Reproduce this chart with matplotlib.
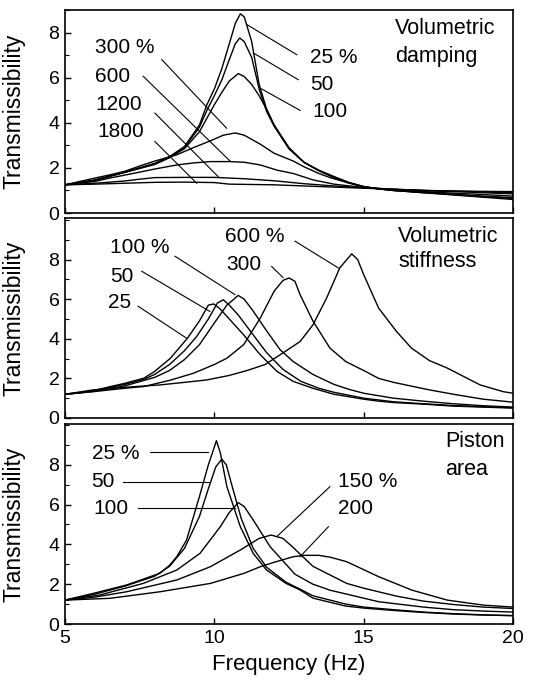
import matplotlib
matplotlib.use("Agg")
import matplotlib.pyplot as plt
from matplotlib.ticker import MultipleLocator

plt.rcParams['font.family'] = ['Liberation Sans', 'DejaVu Sans']

# ---------------- volumetric damping ----------------
vd25_f = [5, 6, 7, 8, 8.5, 9, 9.5, 9.75, 10, 10.25, 10.5, 10.7, 10.87, 11.0, 11.25, 11.5, 11.75, 12, 12.5, 13, 13.5, 14, 14.5, 15, 15.5, 16, 17, 18, 19, 20]
vd25_t = [1.25, 1.47, 1.82, 2.2, 2.5, 2.95, 3.9, 4.8, 5.5, 6.4, 7.5, 8.4, 8.83, 8.7, 7.6, 5.7, 4.6, 3.9, 2.85, 2.25, 1.9, 1.62, 1.36, 1.17, 1.07, 1.0, 0.9, 0.8, 0.7, 0.6]
vd50_f = [5, 6, 7, 8, 8.5, 9, 9.5, 9.75, 10, 10.25, 10.5, 10.7, 10.85, 11.0, 11.25, 11.5, 11.75, 12, 12.5, 13, 13.5, 14, 14.5, 15, 15.5, 16, 17, 18, 19, 20]
vd50_t = [1.25, 1.45, 1.8, 2.18, 2.48, 2.9, 3.8, 4.55, 5.2, 5.9, 6.8, 7.5, 7.76, 7.6, 6.9, 5.5, 4.5, 3.85, 2.85, 2.25, 1.88, 1.6, 1.35, 1.17, 1.07, 1.0, 0.9, 0.82, 0.72, 0.65]
vd100_f = [5, 6, 7, 8, 8.5, 9, 9.5, 9.75, 10, 10.25, 10.5, 10.8, 11.0, 11.25, 11.5, 11.75, 12, 12.5, 13, 13.5, 14, 14.5, 15, 15.5, 16, 17, 18, 19, 20]
vd100_t = [1.25, 1.45, 1.8, 2.15, 2.45, 2.85, 3.6, 4.2, 4.8, 5.35, 5.85, 6.18, 6.05, 5.7, 5.2, 4.6, 3.9, 2.9, 2.25, 1.87, 1.57, 1.33, 1.16, 1.07, 1.0, 0.92, 0.83, 0.75, 0.68]
vd300_f = [5, 6, 6.5, 7, 7.6, 8, 8.74, 9.3, 9.87, 10.3, 10.7, 11.0, 11.54, 12, 12.65, 13, 13.5, 13.9, 14.5, 15, 15.5, 16, 17, 18, 19, 20]
vd300_t = [1.25, 1.55, 1.69, 1.85, 2.13, 2.3, 2.58, 2.9, 3.2, 3.45, 3.55, 3.45, 3.05, 2.65, 2.3, 2.05, 1.75, 1.56, 1.33, 1.17, 1.08, 1.02, 0.95, 0.88, 0.82, 0.75]
vd600_f = [5, 6, 6.5, 7, 7.6, 8, 8.74, 9.3, 9.87, 10.5, 11, 11.54, 12.1, 12.65, 13.3, 14, 14.4, 15, 16, 17, 18, 19, 20]
vd600_t = [1.25, 1.4, 1.55, 1.68, 1.84, 1.95, 2.13, 2.22, 2.28, 2.28, 2.25, 2.13, 1.9, 1.75, 1.47, 1.28, 1.22, 1.13, 1.05, 1.0, 0.95, 0.9, 0.85]
vd1200_f = [5, 6, 7, 7.5, 8, 9, 10, 10.5, 11, 12, 13, 14, 15, 16, 17, 18, 19, 20]
vd1200_t = [1.25, 1.32, 1.42, 1.5, 1.57, 1.58, 1.58, 1.55, 1.52, 1.43, 1.3, 1.2, 1.12, 1.06, 1.0, 0.97, 0.93, 0.9]
vd1800_f = [5, 6, 7, 8, 9, 10, 10.5, 11, 12, 13, 14, 15, 16, 17, 18, 19, 20]
vd1800_t = [1.25, 1.28, 1.32, 1.36, 1.37, 1.35, 1.28, 1.27, 1.25, 1.2, 1.15, 1.1, 1.05, 1.0, 0.98, 0.96, 0.95]

# ---------------- volumetric stiffness ----------------
vs25_f = [5, 5.4, 6, 6.53, 7, 7.64, 8, 8.53, 9.1, 9.5, 9.8, 9.98, 10.2, 10.5, 10.98, 11.54, 12.1, 12.64, 13.3, 14, 15, 15.5, 16, 17, 18, 19, 20]
vs25_t = [1.2, 1.25, 1.4, 1.59, 1.75, 2.01, 2.35, 3.02, 4.03, 4.9, 5.7, 5.76, 5.5, 5.0, 4.2, 3.19, 2.35, 1.85, 1.5, 1.2, 0.95, 0.85, 0.78, 0.7, 0.6, 0.55, 0.5]
vs50_f = [5, 6, 7, 7.64, 8, 8.5, 9, 9.4, 9.8, 10.1, 10.3, 10.5, 10.8, 11.25, 11.75, 12.3, 12.9, 13.5, 14, 15, 16, 17, 18, 19, 20]
vs50_t = [1.2, 1.38, 1.7, 1.95, 2.2, 2.7, 3.4, 4.1, 5.0, 5.8, 5.97, 5.7, 5.2, 4.3, 3.3, 2.45, 1.85, 1.5, 1.3, 1.0, 0.82, 0.72, 0.63, 0.57, 0.52]
vs100_f = [5, 6, 7, 8, 8.5, 9, 9.5, 10, 10.42, 10.8, 11.0, 11.3, 11.75, 12.2, 12.64, 13.3, 14, 14.5, 15, 16, 17, 18, 19, 20]
vs100_t = [1.2, 1.35, 1.62, 2.05, 2.4, 2.95, 3.7, 4.8, 5.7, 6.19, 6.0, 5.4, 4.4, 3.45, 2.85, 2.2, 1.7, 1.45, 1.25, 1.0, 0.85, 0.72, 0.62, 0.55]
vs300_f = [5, 5.95, 7, 7.64, 8.5, 9.3, 10, 10.42, 10.98, 11.54, 12, 12.3, 12.5, 12.7, 12.87, 13.3, 13.87, 14.4, 15, 15.5, 16, 17.2, 18, 19, 20]
vs300_t = [1.2, 1.33, 1.5, 1.59, 1.9, 2.26, 2.7, 3.02, 3.7, 5.05, 6.4, 6.95, 7.07, 6.9, 6.23, 4.9, 3.53, 2.85, 2.4, 2.0, 1.8, 1.42, 1.2, 0.95, 0.8]
vs600_f = [5, 5.95, 7, 8.18, 9, 9.74, 10.5, 11.1, 11.7, 12.2, 12.87, 13.3, 13.76, 14.2, 14.6, 14.8, 15.0, 15.5, 16.1, 16.6, 17.2, 17.8, 18.9, 19.67, 20]
vs600_t = [1.2, 1.42, 1.55, 1.67, 1.8, 1.92, 2.15, 2.4, 2.7, 3.19, 3.86, 4.7, 6.06, 7.58, 8.29, 8.0, 7.24, 5.55, 4.37, 3.53, 2.9, 2.52, 1.67, 1.33, 1.25]

# ---------------- piston area ----------------
pa25_f = [5, 5.95, 7.06, 8.18, 8.5, 8.74, 9.07, 9.5, 9.8, 10.07, 10.2, 10.42, 10.87, 11.3, 11.75, 12.4, 12.87, 13.3, 14.4, 15, 16, 17, 18, 19, 20]
pa25_t = [1.2, 1.54, 1.96, 2.55, 2.95, 3.38, 4.22, 6.4, 8.0, 9.21, 8.6, 6.9, 4.89, 3.55, 2.71, 2.04, 1.71, 1.3, 0.9, 0.8, 0.68, 0.58, 0.5, 0.45, 0.42]
pa50_f = [5, 6, 7, 8, 8.5, 9, 9.5, 9.8, 10.05, 10.25, 10.4, 10.6, 10.9, 11.3, 11.75, 12.4, 12.87, 13.3, 14.4, 15, 16, 17, 18, 19, 20]
pa50_t = [1.2, 1.5, 1.9, 2.4, 2.9, 3.8, 5.4, 6.8, 7.9, 8.28, 8.0, 6.9, 5.3, 3.8, 2.85, 2.1, 1.75, 1.42, 1.0, 0.85, 0.72, 0.6, 0.52, 0.46, 0.42]
pa100_f = [5, 6.17, 7.62, 8.74, 9.52, 10.2, 10.5, 10.8, 11.0, 11.3, 11.87, 12.7, 13.3, 13.87, 15.5, 17, 18, 19, 20]
pa100_t = [1.2, 1.46, 2.04, 2.71, 3.55, 4.89, 5.6, 6.1, 5.9, 5.23, 3.88, 2.5, 2.0, 1.7, 1.12, 0.85, 0.72, 0.65, 0.6]
pa150_f = [5, 6, 7.06, 8.74, 9.87, 10.87, 11.5, 11.9, 12.3, 12.6, 13.3, 14.43, 15, 16.1, 17, 18, 19, 20]
pa150_t = [1.2, 1.35, 1.62, 2.21, 2.88, 3.72, 4.3, 4.47, 4.3, 3.9, 2.9, 2.04, 1.8, 1.4, 1.15, 0.98, 0.85, 0.78]
pa200_f = [5, 6.5, 8.18, 9.87, 11, 11.54, 12.0, 12.64, 13.0, 13.5, 13.9, 14.43, 15.5, 16.6, 17.8, 19, 20]
pa200_t = [1.2, 1.29, 1.62, 2.04, 2.55, 2.88, 3.1, 3.38, 3.45, 3.45, 3.35, 3.13, 2.38, 1.71, 1.2, 0.95, 0.85]

# labels: (text, x, y) and leader lines ((x0, y0), (x1, y1))
vd_labels = [("25 %", 13.2, 6.9), ("50", 13.2, 5.69), ("100", 13.27, 4.5),
             ("300 %", 6.0, 7.32), ("600", 6.0, 6.06), ("1200", 6.0, 4.8), ("1800", 6.1, 3.61)]
vd_leaders = [((11.08, 8.36), (12.76, 7.02)), ((11.3, 7.1), (12.81, 5.91)), ((11.53, 5.54), (12.87, 4.55)),
              ((8.24, 6.8), (10.41, 3.76)), ((7.62, 6.06), (10.52, 2.31)),
              ((8.01, 4.43), (10.13, 1.61)), ((8.01, 3.17), (9.41, 1.32))]
vs_labels = [("600 %", 10.36, 9.18), ("300", 10.41, 7.75), ("100 %", 6.51, 8.59), ("50", 6.51, 7.16), ("25", 6.45, 5.81)]
vs_leaders = [((12.7, 8.93), (14.15, 7.58)), ((11.92, 7.65), (12.3, 7.09)), ((8.68, 8.17), (10.69, 6.23)),
              ((7.57, 7.41), (9.85, 5.38)), ((7.45, 5.64), (9.07, 4.03))]
pa_labels = [("25 %", 5.89, 8.58), ("50", 5.89, 7.15), ("100", 5.95, 5.81), ("150 %", 14.15, 7.15), ("200", 14.15, 5.81)]
pa_leaders = [((7.85, 8.66), (9.8, 8.66)), ((6.95, 7.15), (9.85, 7.15)), ((7.45, 5.81), (10.69, 5.81)),
              ((13.87, 6.9), (12.09, 4.39)), ((13.82, 4.89), (12.87, 3.38))]

panels = [
    ([(vd25_f, vd25_t), (vd50_f, vd50_t), (vd100_f, vd100_t), (vd300_f, vd300_t),
      (vd600_f, vd600_t), (vd1200_f, vd1200_t), (vd1800_f, vd1800_t)],
     vd_labels, vd_leaders, ("Volumetric", "damping"), (16.05, 8.2, 6.95), 9.0),
    ([(vs25_f, vs25_t), (vs50_f, vs50_t), (vs100_f, vs100_t), (vs300_f, vs300_t), (vs600_f, vs600_t)],
     vs_labels, vs_leaders, ("Volumetric", "stiffness"), (16.16, 9.18, 7.91), 10.1),
    ([(pa25_f, pa25_t), (pa50_f, pa50_t), (pa100_f, pa100_t), (pa150_f, pa150_t), (pa200_f, pa200_t)],
     pa_labels, pa_leaders, ("Piston", "area"), (17.72, 9.16, 7.74), 10.05),
]

fig = plt.figure(figsize=(5.36, 6.81), dpi=100)
boxes = [(0.1213, 0.6872, 0.8358, 0.2981),
         (0.1213, 0.3862, 0.8358, 0.2937),
         (0.1213, 0.0837, 0.8358, 0.2937)]

for i, (curves, labels, leaders, title, tpos, ytop) in enumerate(panels):
    ax = fig.add_axes(boxes[i])
    for f, t in curves:
        ax.plot(f, t, color='black', lw=1.0)
    for (x0, y0), (x1, y1) in leaders:
        ax.plot([x0, x1], [y0, y1], color='black', lw=0.8)
    for s, x, y in labels:
        ax.text(x, y, s, fontsize=15, ha='left', va='center')
    ax.text(tpos[0], tpos[1], title[0], fontsize=15.5, ha='left', va='center')
    ax.text(tpos[0], tpos[2], title[1], fontsize=15.5, ha='left', va='center')

    ax.set_xlim(5, 20)
    ax.set_ylim(0, ytop)
    ax.set_xticks([5, 10, 15, 20])
    ax.set_yticks([0, 2, 4, 6, 8])
    ax.yaxis.set_minor_locator(MultipleLocator(1))
    ax.tick_params(direction='in', length=4, width=1, labelsize=14, pad=4)
    ax.tick_params(which='minor', direction='in', length=3, width=0.8)
    if i < 2:
        ax.tick_params(axis='x', labelbottom=False)
    for sp in ax.spines.values():
        sp.set_linewidth(1.2)
    ax.set_ylabel("Transmissibility", fontsize=16.5)
    ax.yaxis.set_label_coords(-0.089, 0.5)

fig.text(0.539, 0.0235, "Frequency (Hz)", fontsize=16, ha='center', va='center')

fig.savefig("out.png", dpi=100)
